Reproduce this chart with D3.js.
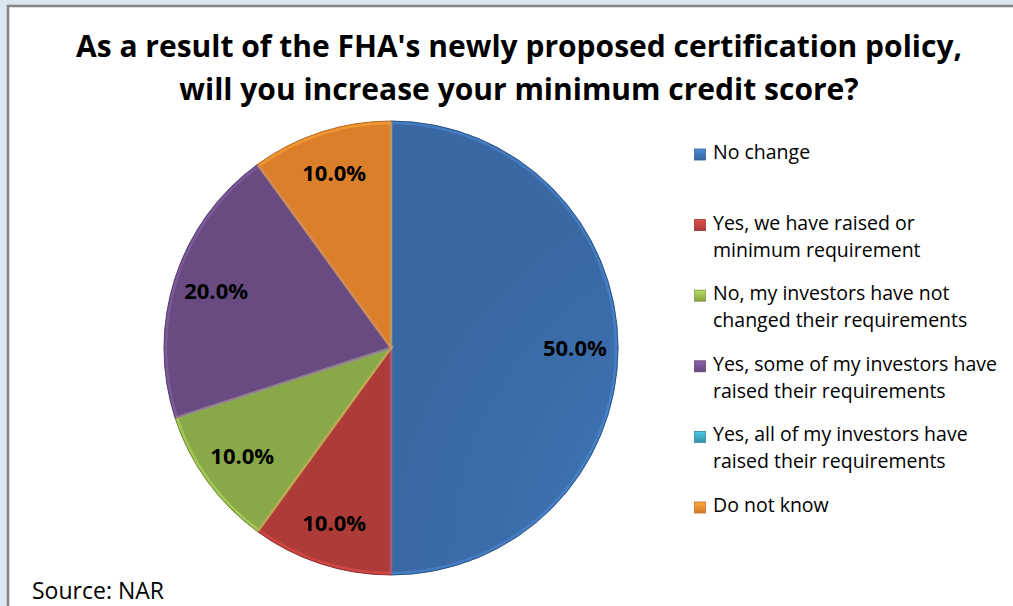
<!DOCTYPE html>
<meta charset="utf-8">
<head>
  <meta charset="utf-8">
  <title>FHA certification policy pie</title>
  <style>
    body { margin: 0; background: #dce6f1; }
    svg { display: block; }
  </style>
</head>
<body>
<script src="https://cdn.jsdelivr.net/npm/d3@7"></script>
<script>

// data
var categories = [
  "No change",
  "Yes, we have raised or minimum requirement",
  "No, my investors have not changed their requirements",
  "Yes, some of my investors have raised their requirements",
  "Yes, all of my investors have raised their requirements",
  "Do not know"
];
var values = [50, 10, 10, 20, 0, 10];
// legend lines as wrapped in the picture
var legendLines = [
  ["No change"],
  ["Yes, we have raised or", "minimum requirement"],
  ["No, my investors have not", "changed their requirements"],
  ["Yes, some of my investors have", "raised their requirements"],
  ["Yes, all of my investors have", "raised their requirements"],
  ["Do not know"]
];
var titleLines = [
  "As a result of the FHA's newly proposed certification policy,",
  "will you increase your minimum credit score?"
];
var sourceText = "Source: NAR";

var colors = ["#3f74b5", "#c0423e", "#99bb50", "#74538f", "#3ea8c2", "#f58d30"];

var W = 1013, H = 606;
var cx = 391, cy = 348, R = 227;
var font = "'Open Sans', Lato, sans-serif";

var svg = d3.select("body").append("svg")
    .attr("width", W)
    .attr("height", H);

// chart area: white with grey frame
svg.append("rect")
    .attr("x", 8).attr("y", 6)
    .attr("width", W + 20).attr("height", H + 20)
    .attr("fill", "#fff")
    .attr("stroke", "#858585")
    .attr("stroke-width", 2.5);

var defs = svg.append("defs");
colors.forEach(function(c, i) {
  var g = defs.append("radialGradient")
      .attr("id", "g" + i)
      .attr("gradientUnits", "userSpaceOnUse")
      .attr("cx", cx).attr("cy", cy - R * 0.6)
      .attr("r", R * 1.7);
  g.append("stop").attr("offset", "0%").attr("stop-color", d3.color(c).brighter(0.15));
  g.append("stop").attr("offset", "100%").attr("stop-color", d3.color(c).darker(0.3));
  var s = defs.append("linearGradient")
      .attr("id", "s" + i)
      .attr("x1", 0).attr("y1", 0).attr("x2", 0).attr("y2", 1);
  s.append("stop").attr("offset", "0%").attr("stop-color", d3.color(c).brighter(0.5));
  s.append("stop").attr("offset", "100%").attr("stop-color", d3.color(c).darker(0.4));
});

// title
svg.append("g").selectAll("text")
    .data(titleLines)
    .enter().append("text")
    .attr("x", 519)
    .attr("y", function(d, i) { return 57 + i * 43; })
    .attr("text-anchor", "middle")
    .style("font-family", font)
    .style("font-weight", "bold")
    .style("font-size", "30px")
    .attr("fill", "#000")
    .text(function(d) { return d; });

// pie
var data = categories.map(function(c, i) { return {name: c, value: values[i], i: i}; });
var pie = d3.pie().sort(null).value(function(d) { return d.value; });
var arc = d3.arc().innerRadius(0).outerRadius(R);
var bevel = d3.arc().innerRadius(0).outerRadius(R - 2);
var labelArc = d3.arc().innerRadius(R * 0.81).outerRadius(R * 0.81);

var g = svg.append("g").attr("transform", "translate(" + cx + "," + cy + ")");
var arcs = pie(data).filter(function(d) { return d.data.value > 0; });

g.selectAll(".slice")
    .data(arcs)
    .enter().append("path")
    .attr("class", "slice")
    .attr("d", arc)
    .attr("fill", function(d) { return "url(#g" + d.data.i + ")"; })
    .attr("stroke", function(d) { return d3.color(colors[d.data.i]).darker(0.8); })
    .attr("stroke-width", 1);

// soft bevel highlight inside each slice
g.selectAll(".bevel")
    .data(arcs)
    .enter().append("path")
    .attr("class", "bevel")
    .attr("d", bevel)
    .attr("fill", "none")
    .attr("stroke", function(d) { return d3.color(colors[d.data.i]).brighter(0.6); })
    .attr("stroke-opacity", 0.5)
    .attr("stroke-width", 2.5);

g.selectAll(".lbl")
    .data(arcs)
    .enter().append("text")
    .attr("class", "lbl")
    .attr("transform", function(d) {
      var p = labelArc.centroid(d);
      return "translate(" + p[0] + "," + (p[1] + 8) + ")";
    })
    .attr("text-anchor", "middle")
    .style("font-family", font)
    .style("font-weight", "bold")
    .style("font-size", "22px")
    .text(function(d) { return (d.data.value).toFixed(1) + "%"; });

// legend
var legend = svg.append("g").selectAll("g")
    .data(legendLines)
    .enter().append("g")
    .attr("transform", function(d, i) { return "translate(694," + (159 + i * 70.6) + ")"; });

legend.append("rect")
    .attr("x", 0.5).attr("y", -10)
    .attr("width", 11).attr("height", 11)
    .attr("fill", function(d, i) { return "url(#s" + i + ")"; })
    .attr("stroke", function(d, i) { return d3.color(colors[i]).darker(0.6); })
    .attr("stroke-width", 0.8);

legend.selectAll("text")
    .data(function(d) { return d; })
    .enter().append("text")
    .attr("x", 19)
    .attr("y", function(d, j) { return j * 27; })
    .style("font-family", font)
    .style("font-size", "19.5px")
    .attr("fill", "#000")
    .text(function(d) { return d; });

// source note
svg.append("text")
    .attr("x", 32).attr("y", 599)
    .style("font-family", font)
    .style("font-size", "23px")
    .text(sourceText);

</script>
</body>
